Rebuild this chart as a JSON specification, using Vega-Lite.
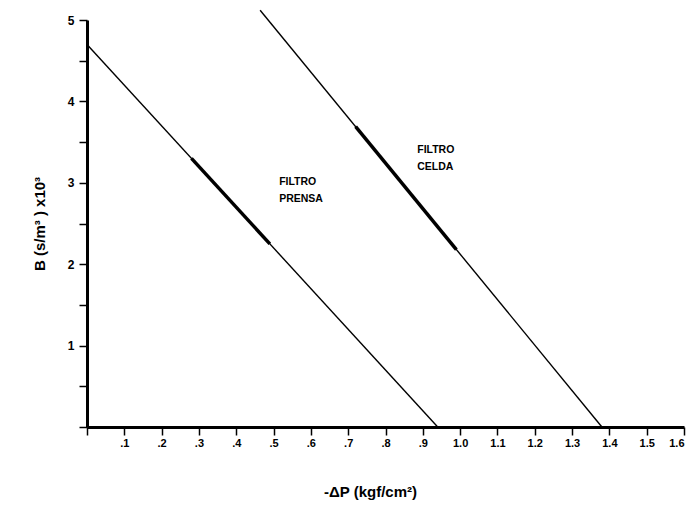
{
  "$schema": "https://vega.github.io/schema/vega-lite/v6.json",
  "width": 597,
  "height": 407,
  "autosize": "none",
  "padding": {"left": 87, "top": 20, "right": 15, "bottom": 87},
  "background": "white",
  "config": {
    "view": {"stroke": null},
    "font": "Liberation Sans",
    "axis": {
      "grid": false,
      "domainColor": "black",
      "domainWidth": 3,
      "tickColor": "black",
      "tickWidth": 1.5,
      "tickSize": 8,
      "labelColor": "black",
      "labelFont": "Liberation Sans",
      "labelFontWeight": "bold",
      "labelFontSize": 11,
      "titleColor": "black",
      "titleFont": "Liberation Sans",
      "titleFontWeight": "bold",
      "titleFontSize": 15
    }
  },
  "datasets": {
    "curves": [
      {"filtro": "PRENSA", "dp": 0.0, "b": 4.7},
      {"filtro": "PRENSA", "dp": 0.94, "b": 0.0},
      {"filtro": "CELDA", "dp": 0.464, "b": 5.12},
      {"filtro": "CELDA", "dp": 1.38, "b": 0.0}
    ],
    "tramos": [
      {"filtro": "PRENSA", "dp": 0.28, "b": 3.3},
      {"filtro": "PRENSA", "dp": 0.49, "b": 2.25},
      {"filtro": "CELDA", "dp": 0.72, "b": 3.69},
      {"filtro": "CELDA", "dp": 0.99, "b": 2.18}
    ],
    "etiquetas": [
      {"texto": ["FILTRO", "PRENSA"], "dp": 0.515, "b": 3.07},
      {"texto": ["FILTRO", "CELDA"], "dp": 0.885, "b": 3.47}
    ]
  },
  "encoding": {
    "x": {
      "field": "dp", "type": "quantitative",
      "scale": {"domain": [0, 1.6], "nice": false, "zero": false},
      "axis": {
        "title": "-ΔP (kgf/cm²)",
        "values": [0, 0.1, 0.2, 0.3, 0.4, 0.5, 0.6, 0.7, 0.8, 0.9, 1.0, 1.1, 1.2, 1.3, 1.4, 1.5, 1.6],
        "labelExpr": "datum.value == 0 ? '' : (datum.value < 0.95 ? replace(format(datum.value, '.1f'), '0.', '.') : format(datum.value, '.1f'))",
        "labelOverlap": false,
        "labelPadding": 2,
        "titlePadding": 36,
        "titleX": 283
      }
    },
    "y": {
      "field": "b", "type": "quantitative",
      "scale": {"domain": [0, 5], "nice": false},
      "axis": {
        "title": "B (s/m³ ) x10³",
        "values": [0, 0.5, 1, 1.5, 2, 2.5, 3, 3.5, 4, 4.5, 5],
        "labelExpr": "datum.value == 0 || datum.value % 1 != 0 ? '' : format(datum.value, 'd')",
        "labelOverlap": false,
        "labelFontSize": 12,
        "labelPadding": 5,
        "titlePadding": 20
      }
    }
  },
  "layer": [
    {
      "data": {"name": "curves"},
      "mark": {"type": "line", "color": "black", "strokeWidth": 1.4, "clip": false},
      "encoding": {"detail": {"field": "filtro"}}
    },
    {
      "data": {"name": "tramos"},
      "mark": {"type": "line", "color": "black", "strokeWidth": 3.5},
      "encoding": {"detail": {"field": "filtro"}}
    },
    {
      "data": {"name": "etiquetas"},
      "mark": {"type": "text", "align": "left", "baseline": "top", "font": "Liberation Sans", "fontWeight": "bold", "fontSize": 10.5, "color": "black", "lineHeight": 17, "letterSpacing": -0.7},
      "encoding": {"text": {"field": "texto"}}
    }
  ]
}
